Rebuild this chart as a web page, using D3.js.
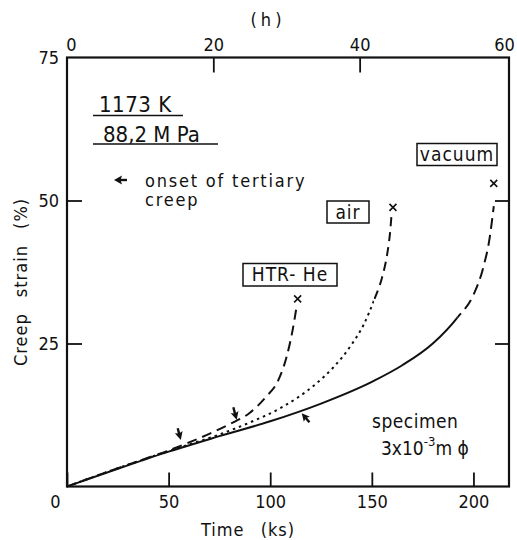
<!DOCTYPE html>
<html><head><meta charset="utf-8">
<script src="https://cdn.jsdelivr.net/npm/d3@7"></script>
<style>
body{margin:0;background:#fff;}
svg text{font-family:"DejaVu Sans Condensed","Liberation Sans Narrow","Roboto Condensed","DejaVu Sans",sans-serif;fill:#111;}
</style></head><body><svg id="c" width="517" height="540"></svg>
<script>
// ---- data ----
const bottomTicks = [0, 50, 100, 150, 200];      // ks
const topTicks = [0, 20, 40, 60];                // h
const leftTicks = [25, 50, 75];                  // %
const rightTicks = [25, 50];

const vacuumTime   = [0, 25, 50, 75, 100, 125, 150, 165, 180, 192, 200, 205, 208, 210];
const vacuumStrain = [0, 3.1, 6.1, 8.8, 11.4, 14.5, 18.3, 21.2, 25, 29.5, 33.5, 38.5, 43.5, 49];
const airTime      = [0, 25, 50, 75, 90, 106, 122, 131, 140, 146, 151, 155, 157.5, 159, 159.7];
const airStrain    = [0, 3.2, 6.2, 9.1, 11.2, 13.9, 17.8, 20.8, 24.8, 28.3, 32.5, 36.5, 40.5, 44.5, 47.5];
const heTime       = [0, 25, 50, 60, 70, 80, 90, 98, 104, 108, 111, 113];
const heStrain     = [0, 3.2, 6.3, 7.7, 9.2, 10.9, 12.9, 15.7, 18.6, 22.6, 27.3, 31.5];

const ruptureTime   = [113.5, 160.4, 210];
const ruptureStrain = [32.8, 48.8, 53];
const onsetTime   = [56, 83.5, 115.5];
const onsetStrain = [7.8, 11.3, 13];

const airDotUntil = 151;     // ks: dotted part of air curve
const vacuumSolidUntil = 192; // ks: solid part of vacuum curve

// ---- layout ----
const svg = d3.select("#c");
const L = 67, R = 509, T = 57.5, B = 486.5;
const x = d3.scaleLinear().domain([0, 217.5]).range([L, R]);
const xh = d3.scaleLinear().domain([0, 217.5 / 3.6]).range([L, R]);
const y = d3.scaleLinear().domain([0, 75]).range([B, T]);

const defs = svg.append("defs");
function clip(id, x0, x1) {
  defs.append("clipPath").attr("id", id).append("rect")
    .attr("x", x0).attr("y", 0).attr("width", x1 - x0).attr("height", 540);
}
clip("airA", 0, x(airDotUntil));
clip("airB", x(airDotUntil), 517);
clip("vacA", 0, x(vacuumSolidUntil));
clip("vacB", x(vacuumSolidUntil), 517);

// axes
const fs = "18px";
const gB = svg.append("g").attr("transform", `translate(0,${B})`)
  .call(d3.axisBottom(x).tickValues(bottomTicks).tickSizeInner(-14).tickSizeOuter(0).tickPadding(9));
gB.selectAll(".tick text").filter(d => d === 0).attr("x", -12);
const gT = svg.append("g").attr("transform", `translate(0,${T})`)
  .call(d3.axisTop(xh).tickValues(topTicks).tickSizeInner(-15).tickSizeOuter(0).tickPadding(7));
gT.selectAll(".tick").filter(d => d === 0 || d === 60).select("line").remove();
gT.selectAll(".tick text").filter(d => d === 0).attr("x", 4);
gT.selectAll(".tick text").filter(d => d === 60).attr("x", -2);
const gL = svg.append("g").attr("transform", `translate(${L},0)`)
  .call(d3.axisLeft(y).tickValues(leftTicks).tickSizeInner(-15).tickSizeOuter(0).tickPadding(8));
gL.selectAll(".tick").filter(d => d === 75).select("line").remove();
const gR = svg.append("g").attr("transform", `translate(${R},0)`)
  .call(d3.axisRight(y).tickValues(rightTicks).tickSizeInner(-14).tickSizeOuter(0).tickFormat(""));
[gB, gT, gL, gR].forEach(g => {
  g.select(".domain").remove();
  g.selectAll(".tick line").attr("stroke", "#111").attr("stroke-width", 1.8);
  g.selectAll(".tick text").style("font-size", fs).attr("fill", "#111");
});
svg.append("rect").attr("x", L).attr("y", T).attr("width", R - L).attr("height", B - T)
  .attr("fill", "none").attr("stroke", "#111").attr("stroke-width", 2.2);

// curves
const line = d3.line().x(d => x(d[0])).y(d => y(d[1])).curve(d3.curveMonotoneX);
const vac = d3.zip(vacuumTime, vacuumStrain);
const air = d3.zip(airTime, airStrain);
const he = d3.zip(heTime, heStrain);
function curve(data, dash, clipId) {
  const p = svg.append("path").attr("d", line(data)).attr("fill", "none")
    .attr("stroke", "#111").attr("stroke-width", 2);
  if (dash) p.attr("stroke-dasharray", dash);
  if (clipId) p.attr("clip-path", `url(#${clipId})`);
}
curve(vac, null, "vacA");
curve(vac, "11,6", "vacB");
curve(air, "2.5,4", "airA");
curve(air, "9,6", "airB");
curve(he, "10,6", null);

// rupture crosses
svg.selectAll(".rup").data(d3.zip(ruptureTime, ruptureStrain)).join("path")
  .attr("transform", d => `translate(${x(d[0])},${y(d[1])})`)
  .attr("d", "M-3.5,-3.5L3.5,3.5M-3.5,3.5L3.5,-3.5")
  .attr("stroke", "#111").attr("stroke-width", 1.6);

// onset arrows
function arrow(px, py, angleDeg, len, hw) {
  const g = svg.append("g").attr("transform", `translate(${px},${py}) rotate(${angleDeg})`);
  // arrow pointing to +x direction with tip at origin
  g.append("path").attr("d", `M0,0L-8,${-hw}L-6.5,0L-8,${hw}Z`).attr("fill", "#111");
  g.append("line").attr("x1", -6).attr("y1", 0).attr("x2", -len).attr("y2", 0)
    .attr("stroke", "#111").attr("stroke-width", 2.4);
}
const onset = d3.zip(onsetTime, onsetStrain);
arrow(x(onset[0][0]), y(onset[0][1]) - 2, 75, 12, 4);
arrow(x(onset[1][0]), y(onset[1][1]) - 2, 75, 13, 4);
arrow(x(onset[2][0]), y(onset[2][1]) + 1, -130, 12, 4);

// legend arrow
arrow(114, 180, 180, 13, 4.5);
svg.append("text").attr("x", 145).attr("y", 187).style("font-size", "18px").style("letter-spacing", "1.8px").text("onset of tertiary");
svg.append("text").attr("x", 145).attr("y", 206).style("font-size", "18px").style("letter-spacing", "1.8px").text("creep");

// conditions
svg.append("text").attr("x", 99).attr("y", 112).style("font-size", "22px").style("letter-spacing", "0.5px").text("1173 K");
svg.append("line").attr("x1", 93).attr("x2", 183).attr("y1", 115.5).attr("y2", 115.5).attr("stroke", "#111").attr("stroke-width", 1.5);
svg.append("text").attr("x", 103).attr("y", 141.5).style("font-size", "22px").text("88,2 M Pa");
svg.append("line").attr("x1", 93).attr("x2", 218).attr("y1", 144).attr("y2", 144).attr("stroke", "#111").attr("stroke-width", 1.5);

// boxed labels
function boxed(label, x0, y0, x1, y1) {
  svg.append("rect").attr("x", x0).attr("y", y0).attr("width", x1 - x0).attr("height", y1 - y0)
    .attr("fill", "none").attr("stroke", "#111").attr("stroke-width", 1.5);
  svg.append("text").attr("x", (x0 + x1) / 2).attr("y", (y0 + y1) / 2 + 6.5)
    .attr("text-anchor", "middle").style("font-size", "19px").style("letter-spacing", "1px").text(label);
}
boxed("vacuum", 417, 143.5, 497, 165.5);
boxed("air", 327, 201, 369, 223);
boxed("HTR- He", 243, 263.5, 337, 286);

// specimen
svg.append("text").attr("x", 372).attr("y", 428).style("font-size", "19px").style("letter-spacing", "0.5px").text("specimen");
const sp = svg.append("text").attr("x", 381).attr("y", 455).style("font-size", "19px");
sp.append("tspan").text("3x10");
sp.append("tspan").attr("dy", -9).style("font-size", "13px").text("-3");
sp.append("tspan").attr("dy", 9).text("m  \u03D5");

// axis titles
svg.append("text").attr("x", 268).attr("y", 26).attr("text-anchor", "middle").style("font-size", "18px").style("letter-spacing", "4px").text("(h)");
svg.append("text").attr("x", 248).attr("y", 536).attr("text-anchor", "middle").style("font-size", "18px").style("letter-spacing", "1px").style("word-spacing", "10px").text("Time (ks)");
svg.append("text").attr("transform", "translate(27,282) rotate(-90)").attr("text-anchor", "middle")
  .style("font-size", "18px").style("letter-spacing", "1px").style("word-spacing", "10px").text("Creep strain (%)");
</script></body></html>
